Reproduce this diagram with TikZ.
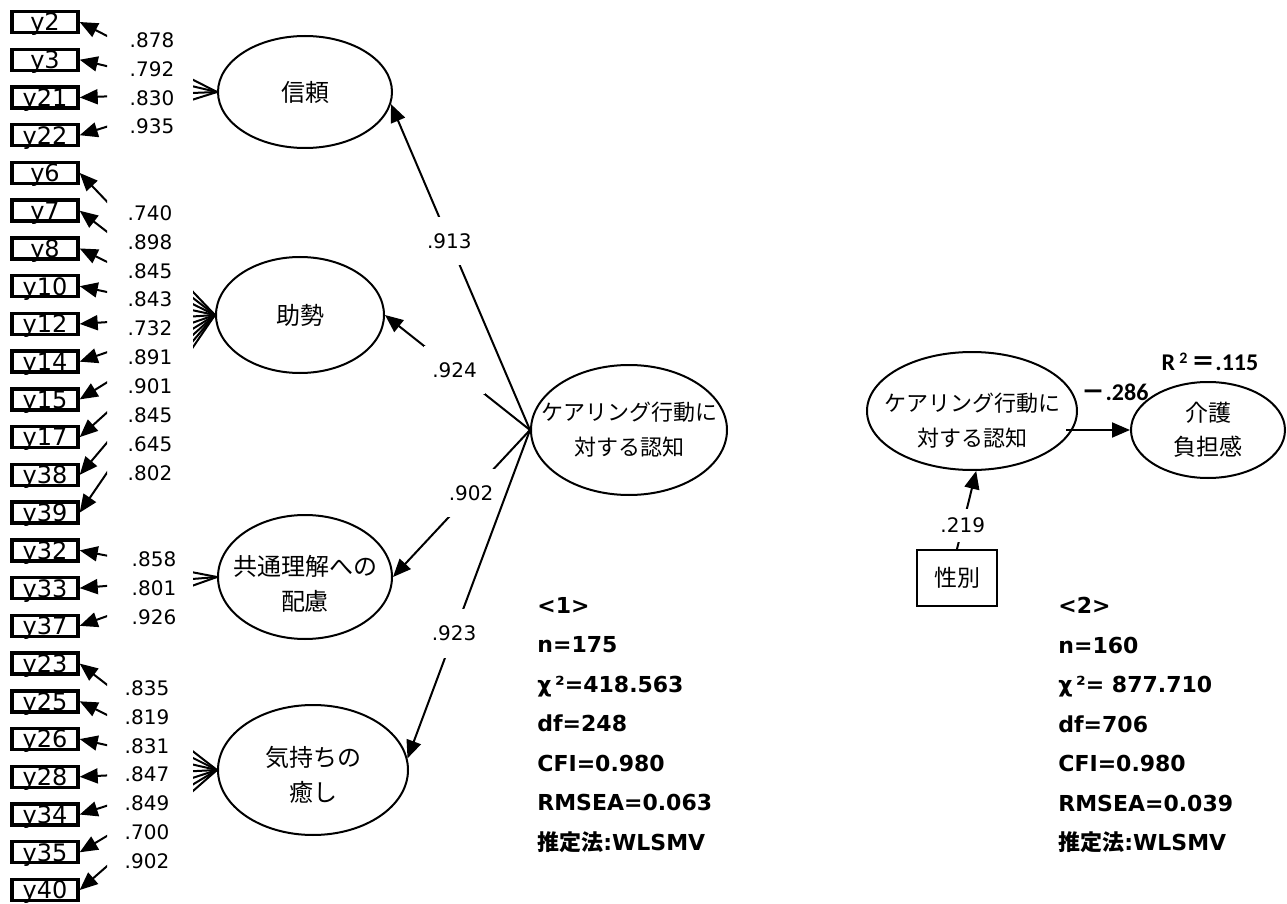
\documentclass[tikz,border=0pt]{standalone}
\usepackage{fontspec}
\setmainfont{DejaVu Sans}
\newfontfamily\jp{Noto Sans CJK JP}
\newfontfamily\calfont{Carlito}
\usetikzlibrary{arrows.meta,shapes.geometric,calc}
\tikzset{
  ybox/.style={draw, line width=1.7pt, minimum width=33pt, minimum height=10.5pt, inner sep=0pt, font=\fontsize{12}{12}\selectfont, text depth=0pt},
  lat/.style={draw, ellipse, line width=1pt, inner sep=0pt},
  ltxt/.style={font=\jp\fontsize{12}{17.5}\selectfont, align=center, inner sep=0pt},
  ktxt/.style={font=\jp\fontsize{11}{17.5}\selectfont, align=center, inner sep=0pt},
  load/.style={font=\fontsize{10}{10}\selectfont, inner sep=0pt},
  arr/.style={line width=1pt, -{Triangle[length=9pt,width=7.5pt]}},
  coef/.style={fill=white, font=\fontsize{10}{10}\selectfont, inner xsep=4pt, inner ysep=8.3pt},
  coeftwo/.style={fill=white, font=\fontsize{10}{10}\selectfont, inner xsep=2pt, inner ysep=4.5pt},
  stat/.style={font=\bfseries\fontsize{11}{19.75}\selectfont, align=left, inner sep=0pt, anchor=north west},
  boldlab/.style={font=\bfseries\calfont\fontsize{12}{12}\selectfont, inner sep=0pt},
}
\begin{document}
\begin{tikzpicture}[x=0.5pt,y=-0.5pt]
\useasboundingbox (0,0) rectangle (1287,904);
% observed variables
\foreach \n [count=\i from 0] in {2,3,21,22,6,7,8,10,12,14,15,17,38,39,32,33,37,23,25,26,28,34,35,40}
  \node[ybox] (y\n) at (45,{22+37.74*\i}) {y\n};
% first-order factors
\node[lat, minimum width=87pt, minimum height=56pt] (shinrai) at (305,92) {};
\node[ltxt] (shinraiT) at (shinrai) {信頼};
\node[lat, minimum width=84pt, minimum height=58pt] (josei) at (300,315) {};
\node[ltxt] (joseiT) at (josei) {助勢};
\node[lat, minimum width=87pt, minimum height=62pt] (kyotsu) at (305,577) {};
\node[ltxt] (kyotsuT) at (305,584) {共通理解への\\配慮};
\node[lat, minimum width=95pt, minimum height=65pt] (kimochi) at (313,770) {};
\node[ltxt] (kimochiT) at (313,775) {気持ちの\\癒し};
\node[lat, minimum width=98pt, minimum height=65pt] (kea) at (629,430) {};
\node[ktxt] (keaT) at (kea) {ケアリング行動に\\対する認知};
% fan loadings
\begin{scope}
  \clip (0,0) rectangle (107,904) (193,0) rectangle (700,904);
  \foreach \n in {2,3,21,22} \draw[arr] (shinrai.west) -- (y\n.east);
  \foreach \n in {6,7,8,10,12,14,15,17,38,39} \draw[arr] (josei.west) -- (y\n.east);
  \foreach \n in {32,33,37} \draw[arr] (kyotsu.west) -- (y\n.east);
  \foreach \n in {23,25,26,28,34,35,40} \draw[arr] (kimochi.west) -- (y\n.east);
\end{scope}
\foreach \v [count=\i from 0] in {.878,.792,.830,.935}
  \node[load] (la\i) at (152,{40+28.9*\i}) {\v};
\foreach \v [count=\i from 0] in {.740,.898,.845,.843,.732,.891,.901,.845,.645,.802}
  \node[load] (lb\i) at (150,{213+28.9*\i}) {\v};
\foreach \v [count=\i from 0] in {.858,.801,.926}
  \node[load] (lc\i) at (154,{559+28.9*\i}) {\v};
\foreach \v [count=\i from 0] in {.835,.819,.831,.847,.849,.700,.902}
  \node[load] (ld\i) at (147,{688+28.9*\i}) {\v};
% second-order paths
\draw[arr] (kea.west) -- node[coef,pos=0.58] (c1) {.913} (shinrai.-8);
\draw[arr] (kea.west) -- node[coef,pos=0.52] (c2) {.924} (josei.east);
\draw[arr] (kea.west) -- node[coef,pos=0.43] (c3) {.902} (kyotsu.east);
\draw[arr] (kea.west) -- node[coef,pos=0.62] (c4) {.923} (kimochi.7);
% fit statistics 1
\node[stat] (st1) at (537,597) {<1>\\n=175\\χ\,²=418.563\\df=248\\CFI=0.980\\RMSEA=0.063\\{\jp\bfseries 推定法}:WLSMV};
% model 2
\node[lat, minimum width=105pt, minimum height=59pt] (kea2) at (972,411) {};
\node[ktxt] (kea2T) at (972,421) {ケアリング行動に\\対する認知};
\node[lat, minimum width=77pt, minimum height=48pt] (futan) at (1208,430) {};
\node[ktxt, font=\jp\fontsize{11.5}{17}\selectfont] (futanT) at (futan) {介護\\負担感};
\node[draw, line width=1pt, minimum width=40pt, minimum height=28pt, inner sep=0pt, font=\jp\fontsize{11.5}{11.5}\selectfont] (sex) at (957,578) {性別};
\draw[arr] (sex.north) -- node[coeftwo,pos=0.3] (c6) {.219} (kea2.-86);
\draw[arr] ($(kea2.east |- futan.west)+(-12,0)$) -- (futan.west);
\node[boldlab] (b286) at (1115,392) {{\jp\bfseries －}.286};
\node[boldlab] (r2) at (1210,362) {R\,\raisebox{0.6ex}{\fontsize{8}{8}\selectfont 2}\,{\jp ＝}.115};
\node[stat] (st2) at (1058,597) {<2>\\n=160\\χ\,²= 877.710\\df=706\\CFI=0.980\\RMSEA=0.039\\{\jp\bfseries 推定法}:WLSMV};
\end{tikzpicture}
\end{document}
